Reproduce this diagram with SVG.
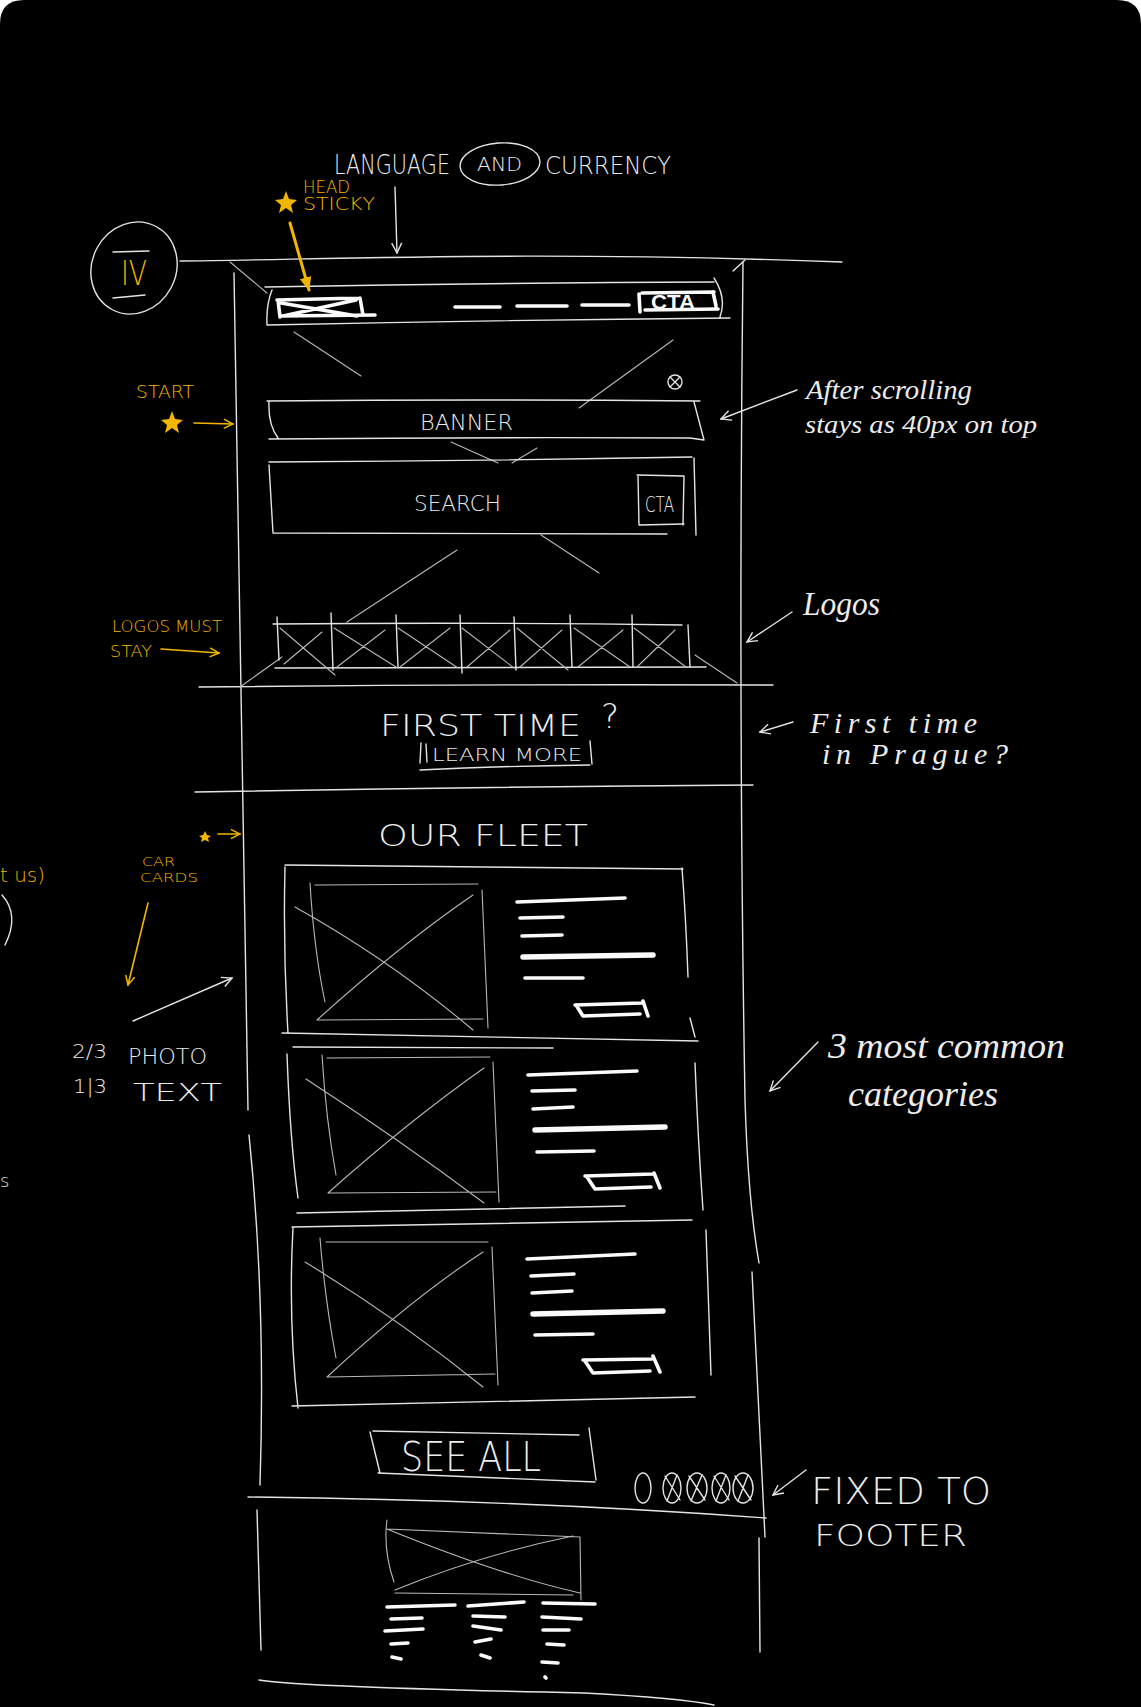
<svg xmlns="http://www.w3.org/2000/svg" width="1141" height="1707" viewBox="0 0 1141 1707">
<defs>
<style>
.s{fill:none;stroke:#e4e4e4;stroke-width:1.4;stroke-linecap:round;stroke-linejoin:round}
.t{fill:none;stroke:#b8b8b8;stroke-width:1.1;stroke-linecap:round}
.b{fill:none;stroke:#fafafa;stroke-width:3.6;stroke-linecap:round;stroke-linejoin:round}
.bb{fill:none;stroke:#fafafa;stroke-width:5.5;stroke-linecap:round}
.ys{fill:none;stroke:#f2b600;stroke-width:1.6;stroke-linecap:round;stroke-linejoin:round}
.cap{font-family:"DejaVu Sans","Liberation Sans",sans-serif;font-weight:200;fill:#ececec}
.yt{font-family:"DejaVu Sans","Liberation Sans",sans-serif;font-weight:200;fill:#f2b600}
.hw{font-family:"Liberation Serif","DejaVu Serif",serif;font-style:italic;fill:#ececec}
.bt{font-family:"Liberation Sans",sans-serif;font-weight:bold;fill:#fafafa}
</style>
<marker id="aw" viewBox="0 0 12 12" refX="11" refY="6" markerWidth="12" markerHeight="12" markerUnits="userSpaceOnUse" orient="auto">
<path d="M1,1 L11,6 L1,11" fill="none" stroke="#e4e4e4" stroke-width="1.4"/>
</marker>
<marker id="ay" viewBox="0 0 12 12" refX="11" refY="6" markerWidth="11" markerHeight="11" markerUnits="userSpaceOnUse" orient="auto">
<path d="M1,1 L11,6 L1,11" fill="none" stroke="#f2b600" stroke-width="1.6"/>
</marker>
<marker id="ayf" viewBox="0 0 12 12" refX="11" refY="6" markerWidth="14" markerHeight="14" markerUnits="userSpaceOnUse" orient="auto">
<path d="M0,1 L12,6 L0,11 Z" fill="#f2b600"/>
</marker>
</defs>
<rect width="1141" height="1707" fill="#ffffff"/>
<path d="M24,0 H1117 Q1141,0 1141,24 V1707 H0 V24 Q0,0 24,0 Z" fill="#000000"/>

<!-- phone frame -->
<g id="frame">
<path class="s" d="M180,261 C320,260 520,250 842,262"/>
<path class="s" d="M234,273 Q240,700 248,1110"/>
<path class="s" d="M249,1135 Q266,1300 260,1485"/>
<path class="s" d="M733,271 L745,260"/>
<path class="s" d="M743,262 Q738,700 745,1100 Q748,1200 759,1263"/>
<path class="s" d="M752,1272 L765,1537"/>
<path class="s" d="M199,687 Q480,684 773,685"/>
<path class="s" d="M195,792 Q470,787 753,785"/>
<path class="s" d="M248,1497 Q520,1500 766,1518"/>
<path class="t" d="M230,262 L267,293"/>
</g>

<g id="version">
<ellipse class="s" cx="134" cy="268" rx="42" ry="47" transform="rotate(28 134 268)"/>
<path class="s" d="M113,252 L149,251 M113,298 L145,295"/>
<text class="yt" x="121" y="285" font-size="34" textLength="26" lengthAdjust="spacingAndGlyphs">IV</text>
</g>

<g id="header">
<path class="s" d="M265,287 Q490,283 714,282 M272,290 Q266,305 267,325 M267,325 Q500,320 730,318 M714,278 Q727,298 720,317"/>
<path class="b" d="M277,300 L360,298 M278,300 L280,317 M280,316 L375,315 M360,298 L363,315 M281,303 L357,316 M283,316 L356,300"/>
<path class="b" d="M455,307 L500,307 M517,306 L567,306 M582,305 L629,305"/>
<path class="b" d="M639,294 L640,312 M642,293 L714,292 M713,292 L716,306 M645,310 L718,309"/>
<text class="bt" x="651" y="309" font-size="20" textLength="44" lengthAdjust="spacingAndGlyphs">CTA</text>
</g>

<g id="perspective">
<path class="t" d="M294,332 L361,376 M673,340 L579,408 M451,442 L498,463 M537,448 L512,463 M541,535 L599,573 M457,550 L347,622 M240,687 L282,657 M695,655 L737,683"/>
</g>

<g id="banner">
<circle class="s" cx="675" cy="382" r="7"/>
<path class="s" d="M670,377 L680,387 M680,377 L670,387"/>
<path class="s" d="M267,401 Q480,399 700,401 M694,402 L704,440 M269,402 Q268,425 278,438 M269,439 Q480,437 690,438 L704,440"/>
<text class="cap" x="420" y="430" font-size="21" textLength="93" lengthAdjust="spacingAndGlyphs">BANNER</text>
</g>

<g id="search">
<path class="s" d="M269,462 Q480,461 692,457 M269,465 L273,533 M273,533 Q470,534 667,534 M694,458 L696,535"/>
<path class="s" d="M637,475 L684,476 M638,475 L639,525 M639,525 L684,524 M684,476 L683,525"/>
<text class="cap" x="414" y="511" font-size="21" textLength="87" lengthAdjust="spacingAndGlyphs">SEARCH</text>
<text class="cap" x="645" y="512" font-size="22" textLength="29" lengthAdjust="spacingAndGlyphs">CTA</text>
</g>

<g id="logos">
<path class="s" d="M273,624 Q480,622 682,625 M275,668 Q490,667 706,667"/>
<path class="s" d="M277,617 L279,660 M331,613 L333,670 M396,615 L398,667 M460,615 L462,673 M514,617 L516,670 M570,615 L572,667 M632,615 L633,667 M688,625 L690,667"/>
<path class="t" d="M280,628 L335,675 M284,664 L322,632 M334,628 L396,667 M337,667 L385,630 M398,628 L458,668 M400,667 L450,628 M462,628 L514,668 M467,667 L510,630 M517,628 L568,670 M520,667 L562,630 M574,628 L630,667 M578,667 L623,630 M634,628 L686,667 M637,667 L675,630"/>
</g>

<g id="firsttime">
<text class="cap" x="380" y="736" font-size="30" textLength="201" lengthAdjust="spacingAndGlyphs">FIRST TIME</text>
<text class="cap" x="601" y="728" font-size="34">?</text>
<path class="s" d="M421,743 L420,763 M426,744 L427,762 M590,741 L592,764 M420,770 Q500,766 590,765"/>
<text class="cap" x="432" y="761" font-size="18" textLength="150" lengthAdjust="spacingAndGlyphs">LEARN MORE</text>
</g>

<g id="fleet">
<text class="cap" x="378" y="846" font-size="30" textLength="210" lengthAdjust="spacingAndGlyphs">OUR FLEET</text>
</g>

<g id="card1">
<path class="s" d="M285,865 L683,869 M285,867 Q283,950 288,1033 M282,1033 L698,1041 M682,868 Q686,920 688,977 M690,1018 L695,1037"/>
<path class="t" d="M315,885 L478,884 M310,883 Q314,950 325,1002 M482,890 L488,1028 M317,1020 L483,1019 M295,907 Q390,960 473,1030 M317,1020 Q400,945 473,895"/>
<path class="b" d="M517,902 L625,898 M520,918 L563,917 M522,936 L562,935 M525,978 L583,978 M575,1005 L642,1003 M576,1005 L583,1016 L640,1014 M643,1001 L648,1016"/>
<path class="bb" d="M523,957 L653,955"/>
</g>

<g id="card2">
<path class="s" d="M293,1047 L553,1048 M287,1054 Q290,1140 298,1198 M695,1063 Q698,1140 703,1210 M297,1213 L625,1206"/>
<path class="t" d="M327,1058 L490,1057 M322,1055 Q326,1120 336,1175 M493,1062 L499,1202 M328,1193 L496,1192 M306,1079 Q400,1140 484,1203 M328,1193 Q410,1120 484,1068"/>
<path class="b" d="M528,1075 L637,1071 M532,1091 L575,1090 M533,1109 L573,1107 M537,1152 L594,1151 M585,1176 L653,1174 M587,1177 L595,1189 L651,1187 M654,1173 L660,1188"/>
<path class="bb" d="M535,1130 L665,1127"/>
</g>

<g id="card3">
<path class="s" d="M292,1227 Q500,1224 692,1220 M293,1228 Q288,1320 298,1408 M706,1230 L711,1375 M292,1406 Q500,1401 695,1397"/>
<path class="t" d="M326,1242 L488,1242 M320,1238 Q325,1300 336,1358 M492,1247 L498,1385 M327,1377 L495,1374 M305,1262 Q400,1320 483,1387 M327,1377 Q410,1300 483,1252"/>
<path class="b" d="M527,1259 L635,1254 M531,1276 L574,1274 M532,1293 L572,1291 M535,1335 L593,1334 M583,1360 L652,1359 M585,1361 L593,1373 L650,1371 M653,1356 L660,1372"/>
<path class="bb" d="M533,1314 L663,1311"/>
</g>

<g id="seeall">
<path class="s" d="M370,1432 L380,1473 M373,1431 L579,1435 M589,1428 L596,1480 M378,1473 L595,1482"/>
<text class="cap" x="401" y="1471" font-size="40" textLength="140" lengthAdjust="spacingAndGlyphs">SEE ALL</text>
</g>

<g id="dots">
<ellipse class="s" cx="643" cy="1488" rx="8" ry="15"/>
<ellipse class="s" cx="672" cy="1488" rx="9" ry="15"/>
<ellipse class="s" cx="697" cy="1488" rx="10" ry="15"/>
<ellipse class="s" cx="721" cy="1488" rx="9" ry="15"/>
<ellipse class="s" cx="743" cy="1488" rx="10" ry="15"/>
<path class="s" d="M665,1476 L680,1500 M677,1475 L667,1501 M689,1476 L705,1500 M702,1475 L691,1501 M714,1476 L729,1500 M726,1475 L716,1501 M735,1476 L751,1500 M748,1475 L738,1501"/>
</g>

<g id="footer">
<path class="s" d="M257,1510 L261,1650 M759,1538 L760,1652 M259,1680 Q300,1687 584,1693 Q680,1698 714,1705"/>
<path class="t" d="M387,1520 Q383,1550 394,1582 M387,1529 L580,1537 M580,1537 L581,1600 M395,1593 L573,1595 M387,1529 Q500,1575 580,1593 M395,1590 Q480,1555 573,1536"/>
<path class="b" d="M387,1607 L455,1605 M391,1619 L422,1618 M385,1631 L423,1629 M391,1644 L408,1643 M392,1657 L401,1659 M468,1606 L524,1602 M473,1616 L505,1617 M473,1626 L501,1630 M475,1642 L491,1639 M481,1655 L490,1658 M543,1603 L595,1604 M542,1617 L581,1619 M543,1630 L569,1630 M547,1644 L564,1645 M542,1662 L558,1663 M545,1677 L546,1678"/>
</g>

<g id="notes">
<text class="cap" x="334" y="174" font-size="26" textLength="116" lengthAdjust="spacingAndGlyphs">LANGUAGE</text>
<ellipse class="s" cx="500" cy="164" rx="40" ry="21" transform="rotate(-4 500 164)"/>
<text class="cap" x="477" y="171" font-size="19" textLength="45" lengthAdjust="spacingAndGlyphs">AND</text>
<text class="cap" x="545" y="174" font-size="24" textLength="126" lengthAdjust="spacingAndGlyphs">CURRENCY</text>
<text class="yt" x="303" y="193" font-size="17" textLength="47" lengthAdjust="spacingAndGlyphs">HEAD</text>
<text class="yt" x="303" y="210" font-size="17" textLength="72" lengthAdjust="spacingAndGlyphs">STICKY</text>
<path d="M286,191 L289,199 L297,200 L291,205 L293,213 L286,208 L279,213 L281,205 L275,200 L283,199 Z" fill="#f2b600"/>
<text class="yt" x="136" y="398" font-size="18" textLength="58" lengthAdjust="spacingAndGlyphs">START</text>
<path d="M172,411 L175,419 L183,420 L177,425 L179,433 L172,428 L165,433 L167,425 L161,420 L169,419 Z" fill="#f2b600"/>
<text class="hw" x="806" y="399" font-size="27" textLength="166" lengthAdjust="spacingAndGlyphs">After scrolling</text>
<text class="hw" x="805" y="433" font-size="25" textLength="232" lengthAdjust="spacingAndGlyphs">stays as 40px on top</text>
<text class="yt" x="112" y="632" font-size="16" textLength="110" lengthAdjust="spacingAndGlyphs">LOGOS MUST</text>
<text class="yt" x="110" y="657" font-size="16" textLength="42" lengthAdjust="spacingAndGlyphs">STAY</text>
<text class="hw" x="803" y="615" font-size="34" textLength="77" lengthAdjust="spacingAndGlyphs">Logos</text>
<text class="hw" x="810" y="733" font-size="30" textLength="167" lengthAdjust="spacing">First time</text>
<text class="hw" x="822" y="764" font-size="30" textLength="186" lengthAdjust="spacing">in Prague?</text>
<path d="M205,831 L207,835 L211,836 L208,838 L209,842 L205,840 L201,842 L202,838 L199,836 L203,835 Z" fill="#f2b600"/>
<text class="yt" x="0" y="882" font-size="20" textLength="45" lengthAdjust="spacingAndGlyphs">t us)</text>
<path class="s" d="M2,895 Q20,915 5,945"/>
<text class="yt" x="142" y="866" font-size="13" textLength="33" lengthAdjust="spacingAndGlyphs">CAR</text>
<text class="yt" x="140" y="882" font-size="13" textLength="58" lengthAdjust="spacingAndGlyphs">CARDS</text>
<text class="cap" x="72" y="1058" font-size="20" textLength="35" lengthAdjust="spacingAndGlyphs">2/3</text>
<text class="cap" x="128" y="1064" font-size="21" textLength="79" lengthAdjust="spacingAndGlyphs">PHOTO</text>
<text class="cap" x="73" y="1093" font-size="20" textLength="34" lengthAdjust="spacingAndGlyphs">1|3</text>
<text class="cap" x="133" y="1101" font-size="24" textLength="89" lengthAdjust="spacingAndGlyphs">TEXT</text>
<text class="cap" x="0" y="1187" font-size="18">s</text>
<text class="hw" x="828" y="1058" font-size="36" textLength="237" lengthAdjust="spacingAndGlyphs">3 most common</text>
<text class="hw" x="848" y="1106" font-size="36" textLength="150" lengthAdjust="spacingAndGlyphs">categories</text>
<text class="cap" x="811" y="1504" font-size="38" textLength="180" lengthAdjust="spacingAndGlyphs">FIXED TO</text>
<text class="cap" x="814" y="1546" font-size="31" textLength="153" lengthAdjust="spacingAndGlyphs">FOOTER</text>
</g>

<g id="connectors">
<path class="s" d="M395,187 L397,253" marker-end="url(#aw)"/>
<path fill="none" stroke="#f2b600" stroke-width="3" stroke-linecap="round" d="M290,223 L309,290" marker-end="url(#ayf)"/>
<path class="ys" d="M194,423 L233,424" marker-end="url(#ay)"/>
<path class="s" d="M797,390 L721,419" marker-end="url(#aw)"/>
<path class="s" d="M792,612 L747,642" marker-end="url(#aw)"/>
<path class="ys" d="M161,649 L219,653" marker-end="url(#ay)"/>
<path class="s" d="M793,722 L760,732" marker-end="url(#aw)"/>
<path class="ys" d="M218,834 L240,834" marker-end="url(#ay)"/>
<path class="ys" d="M148,903 L128,985" marker-end="url(#ay)"/>
<path class="s" d="M133,1021 L232,978" marker-end="url(#aw)"/>
<path class="s" d="M818,1042 L770,1091" marker-end="url(#aw)"/>
<path class="s" d="M806,1470 L773,1495" marker-end="url(#aw)"/>
</g>
</svg>
